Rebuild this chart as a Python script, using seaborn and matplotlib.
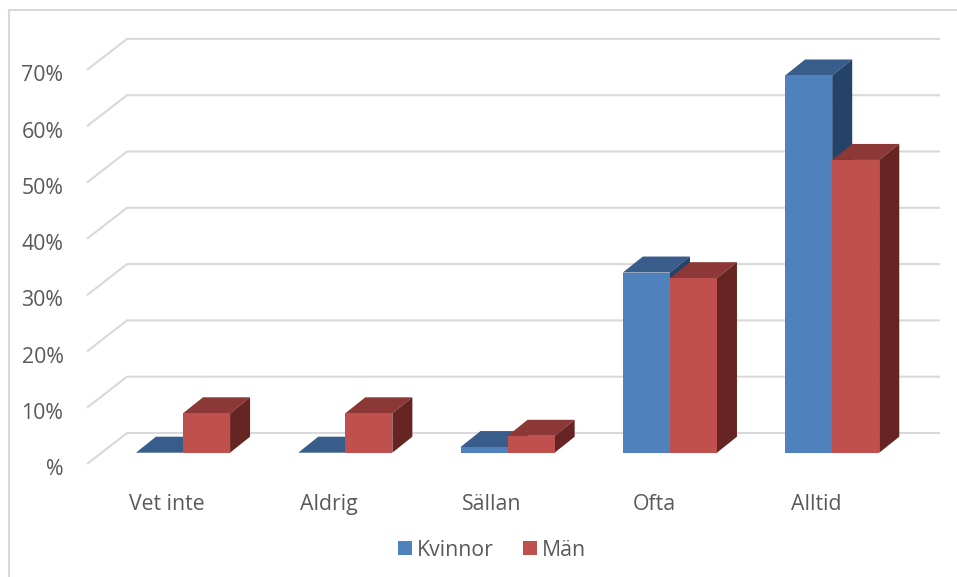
import matplotlib
matplotlib.use("Agg")
import matplotlib.pyplot as plt
from matplotlib.lines import Line2D
import pandas as pd
import seaborn as sns

categories = ["Vet inte", "Aldrig", "Sällan", "Ofta", "Alltid"]
kvinnor = [0, 0, 1, 32, 67]
man = [7, 7, 3, 31, 52]
series_names = ["Kvinnor", "Män"]
y_ticks = [0, 10, 20, 30, 40, 50, 60, 70]
y_labels = ["%", "10%", "20%", "30%", "40%", "50%", "60%", "70%"]

W, H = 957, 577
FRONT = ["#4f81bd", "#c0504d"]
TOP = ["#385d8a", "#8c3836"]
SIDE = ["#254268", "#662523"]
GRID = "#d9d9d9"
TEXT = "#595959"
FONT_SIZE = 15.3

sns.set_theme(style="white")
plt.rcParams["font.family"] = ["Open Sans", "DejaVu Sans"]

df = pd.DataFrame({
    "category": categories * 2,
    "series": [series_names[0]] * 5 + [series_names[1]] * 5,
    "value": kvinnor + man,
})

fig = plt.figure(figsize=(W / 100, H / 100), dpi=100)
px_left, px_right, px_top, px_bottom = 87, 940, 20, 474
ax = fig.add_axes([px_left / W, 1 - px_bottom / H,
                   (px_right - px_left) / W, (px_bottom - px_top) / H])
sns.barplot(data=df, x="category", y="value", hue="series", palette=FRONT,
            hue_order=series_names, order=categories, width=0.58, gap=0,
            saturation=1, ax=ax, linewidth=0, zorder=5)

# scale: pixels per category / per percent point
PX_CAT = 162.3
PX_PCT = 5.63
ZERO_X, ZERO_Y = 183, 452.7
xlim = ((px_left - ZERO_X) / PX_CAT, (px_right - ZERO_X) / PX_CAT)
ylim = ((ZERO_Y - px_bottom) / PX_PCT, (ZERO_Y - px_top) / PX_PCT)

floor = (ZERO_Y - 464) / PX_PCT   # front edge of floor in value units
wall_dx, wall_dy = 40 / PX_CAT, 31 / PX_PCT
bar_dx, bar_dy = 20 / PX_CAT, 16 / PX_PCT

# back wall gridlines and their diagonal returns
for t in y_ticks:
    ax.plot([xlim[0], xlim[0] + wall_dx, xlim[1]],
            [t + floor, t + floor + wall_dy, t + floor + wall_dy],
            color=GRID, lw=1.5, zorder=1, solid_capstyle="butt", clip_on=False)

# depth faces derived from the drawn bars
for s, cont in enumerate(ax.containers):
    for bar in cont:
        x, w, h = bar.get_x(), bar.get_width(), bar.get_height()
        ax.fill([x, x + bar_dx, x + w + bar_dx, x + w], [h, h + bar_dy, h + bar_dy, h],
                color=TOP[s], lw=0, zorder=2 + s)
        ax.fill([x + w, x + w + bar_dx, x + w + bar_dx, x + w], [0, bar_dy, h + bar_dy, h],
                color=SIDE[s], lw=0, zorder=2 + s)

for side in ax.spines.values():
    side.set_visible(False)
ax.patch.set_alpha(0)
ax.set_xlabel("")
ax.set_ylabel("")
ax.set_xticks([i - 16 / PX_CAT for i in range(len(categories))], categories)
ax.set_yticks([t + floor - 0.6 for t in y_ticks], y_labels)
ax.set_xlim(*xlim)
ax.set_ylim(*ylim)
ax.tick_params(axis="x", length=0, pad=14.3, labelsize=FONT_SIZE, labelcolor=TEXT)
ax.tick_params(axis="y", length=0, pad=17, labelsize=FONT_SIZE, labelcolor=TEXT)

leg = ax.legend(loc="center", bbox_to_anchor=(492 / W, 1 - 550 / H),
                bbox_transform=fig.transFigure, ncol=2, frameon=False,
                fontsize=FONT_SIZE, handlelength=0.66, handleheight=0.66,
                handletextpad=0.24, columnspacing=1.36, borderpad=0)
for txt in leg.get_texts():
    txt.set_color(TEXT)

# chart area border
fig.add_artist(Line2D([9 / W, 9 / W, 1], [0, 1 - 10 / H, 1 - 10 / H], color=GRID, lw=1.5,
                      solid_joinstyle="miter"))

fig.savefig("out.png", dpi=100)
